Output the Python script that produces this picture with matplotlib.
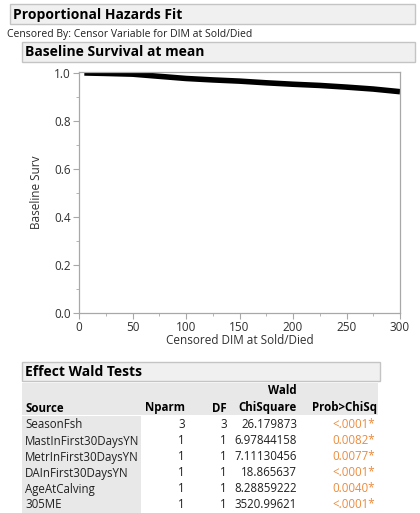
import matplotlib
matplotlib.use('Agg')
import matplotlib.pyplot as plt
from matplotlib.patches import Rectangle
from matplotlib.ticker import MultipleLocator

plt.rcParams['font.family'] = ['Open Sans', 'DejaVu Sans']

# baseline survival curve
dim_days = [5, 25, 50, 75, 100, 125, 150, 175, 200, 225, 250, 275, 300]
base_surv = [1.0, 0.998, 0.995, 0.986, 0.977, 0.971, 0.966, 0.959, 0.953, 0.948, 0.941, 0.933, 0.922]

# effect wald tests table
sources = ['SeasonFsh', 'MastInFirst30DaysYN', 'MetrInFirst30DaysYN',
           'DAInFirst30DaysYN', 'AgeAtCalving', '305ME']
nparm = ['3', '1', '1', '1', '1', '1']
df = ['3', '1', '1', '1', '1', '1']
chisq = ['26.179873', '6.97844158', '7.11130456', '18.865637', '8.28859222', '3520.99621']
probs = ['<.0001*', '0.0082*', '0.0077*', '<.0001*', '0.0040*', '<.0001*']

W, H = 420, 513
fig = plt.figure(figsize=(W / 100, H / 100), dpi=100)

# overlay in pixel coordinates for the report boxes and table
ov = fig.add_axes([0, 0, 1, 1])
ov.set_xlim(0, W)
ov.set_ylim(H, 0)
ov.axis('off')

def outline_box(x0, y0, x1, y1, title):
    ov.add_patch(Rectangle((x0, y0), x1 - x0, y1 - y0, facecolor='#F0F0F0',
                           edgecolor='#C4C4C4', linewidth=1))
    ov.text(x0 + 3, (y0 + y1) / 2 + 0.5, title, fontsize=10, fontweight='bold',
            va='center', ha='left', color='black')

outline_box(10, 4, 415, 24, 'Proportional Hazards Fit')
ov.text(7, 34, 'Censored By: Censor Variable for DIM at Sold/Died', fontsize=7.5,
        va='center', ha='left', color='#202020')
outline_box(22, 42, 415, 62, 'Baseline Survival at mean')

# the plot
ax = fig.add_axes([79 / W, 1 - 313 / H, 321 / W, 241 / H])
ax.plot(dim_days, base_surv, color='black', linewidth=4, solid_capstyle='butt')
ax.set_xlim(0, 300)
ax.set_ylim(0, 1.004)
ax.xaxis.set_major_locator(MultipleLocator(50))
ax.xaxis.set_minor_locator(MultipleLocator(25))
ax.yaxis.set_minor_locator(MultipleLocator(0.1))
ax.set_yticks([0, 0.2, 0.4, 0.6, 0.8, 1.0])
ax.set_yticklabels(['0.0', '0.2', '0.4', '0.6', '0.8', '1.0'])
for s in ax.spines.values():
    s.set_color('#A8A8A8')
    s.set_linewidth(0.9)
ax.tick_params(which='major', length=4, color='#A8A8A8', labelsize=8.5, labelcolor='#303030', pad=2)
ax.tick_params(which='minor', length=2.5, color='#A8A8A8')
ax.set_xlabel('Censored DIM at Sold/Died', fontsize=8.5, color='#303030', labelpad=0)
ax.set_ylabel('Baseline Surv', fontsize=8.5, color='#303030', labelpad=8)

# table
fs = 8.3
outline_box(22, 362, 380, 381, 'Effect Wald Tests')
ov.add_patch(Rectangle((22, 383), 356, 32, facecolor='#E8E8E8', edgecolor='none'))
ov.add_patch(Rectangle((22, 416), 119, 97, facecolor='#E8E8E8', edgecolor='none'))
ov.text(297, 391, 'Wald', fontsize=fs, fontweight='bold', ha='right', va='center')
hdr_y = 408
ov.text(25, hdr_y, 'Source', fontsize=fs, fontweight='bold', ha='left', va='center')
ov.text(185, hdr_y, 'Nparm', fontsize=fs, fontweight='bold', ha='right', va='center')
ov.text(227, hdr_y, 'DF', fontsize=fs, fontweight='bold', ha='right', va='center')
ov.text(297, hdr_y, 'ChiSquare', fontsize=fs, fontweight='bold', ha='right', va='center')
ov.text(377, hdr_y, 'Prob>ChiSq', fontsize=fs, fontweight='bold', ha='right', va='center')

for i in range(len(sources)):
    y = 425 + i * 16
    ov.text(25, y, sources[i], fontsize=fs, ha='left', va='center', color='#202020')
    ov.text(185, y, nparm[i], fontsize=fs, ha='right', va='center', color='#202020')
    ov.text(227, y, df[i], fontsize=fs, ha='right', va='center', color='#202020')
    ov.text(297, y, chisq[i], fontsize=fs, ha='right', va='center', color='#202020')
    ov.text(375, y, probs[i], fontsize=fs, ha='right', va='center', color='#EE8A3C')

fig.savefig('out.png', dpi=100)
